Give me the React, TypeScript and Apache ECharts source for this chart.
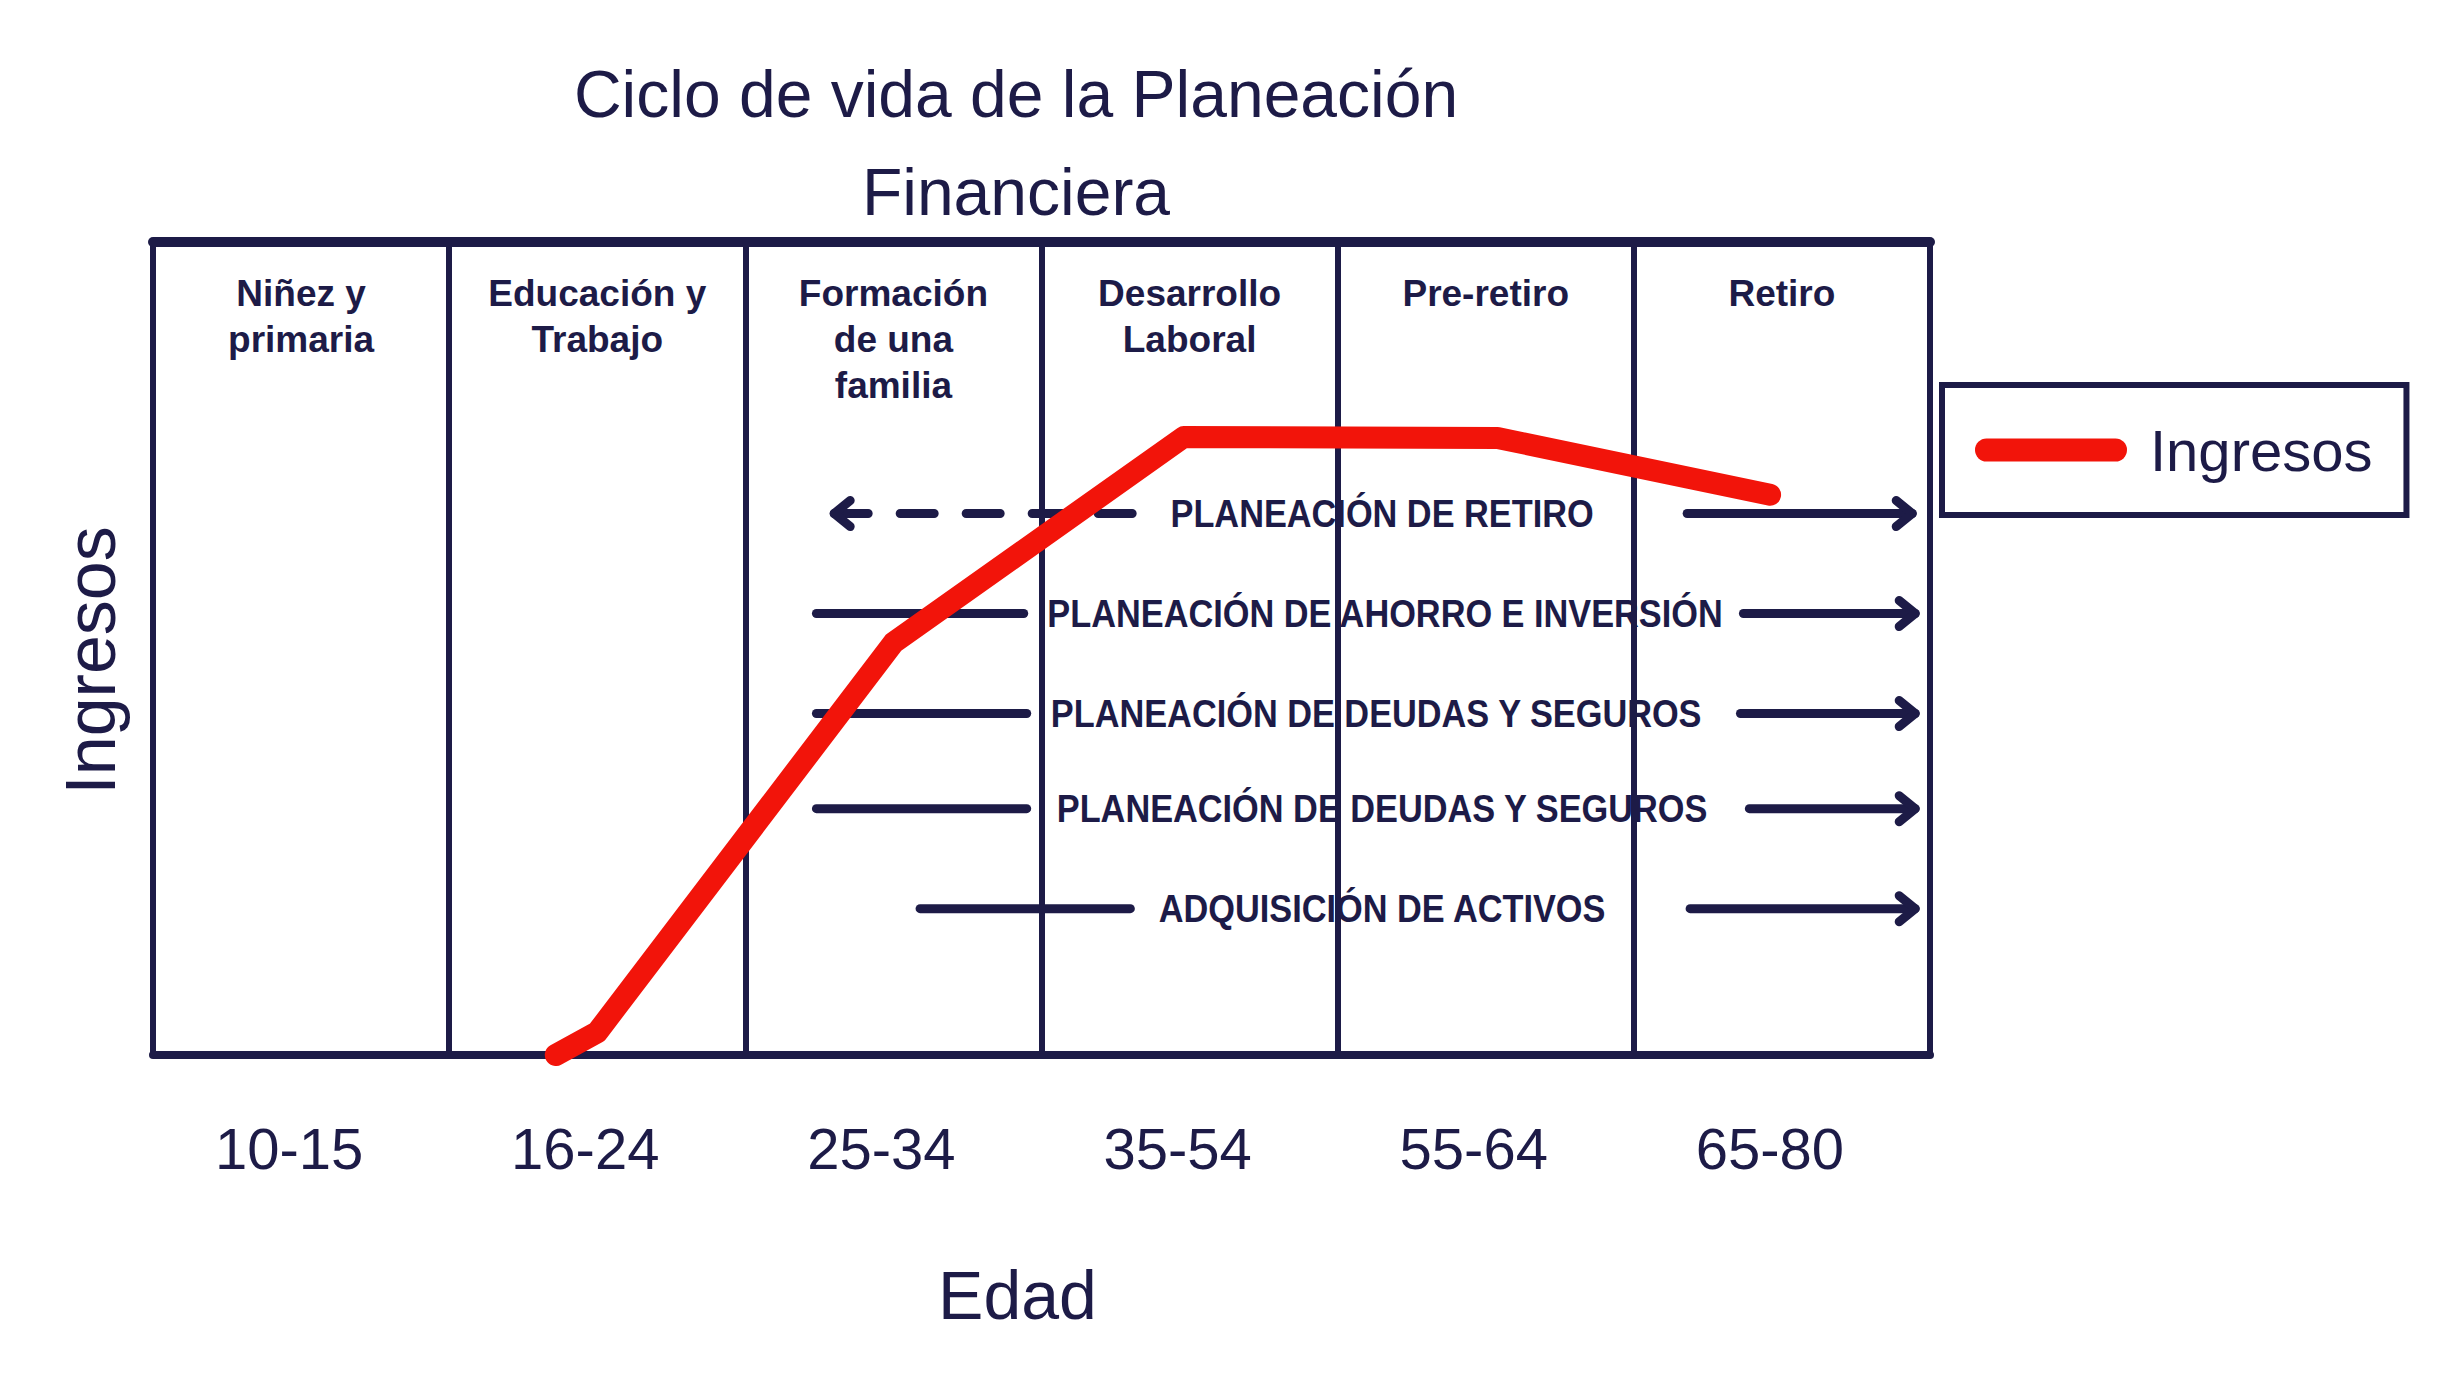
import React, { useEffect, useRef } from "react";
import * as echarts from "echarts";

const NAVY = "#1d1b47";
const RED = "#f2140a";
const FONT = "'Liberation Sans', Arial, sans-serif";

const titulo = "Ciclo de vida de la Planeación\nFinanciera";
const edades = ["10-15", "16-24", "25-34", "35-54", "55-64", "65-80"];
const etapas = [
  "Niñez y\nprimaria",
  "Educación y\nTrabajo",
  "Formación\nde una\nfamilia",
  "Desarrollo\nLaboral",
  "Pre-retiro",
  "Retiro",
];

// Ingresos curve: position along the age axis (column units) and level
const ingresosEdad = [1.36, 1.5, 2.5, 3.48, 4.54, 5.46];
const ingresos = [0, 2.8, 50.7, 76.0, 75.9, 68.9];

// Planning arrows
const planes = [
  "PLANEACIÓN DE RETIRO",
  "PLANEACIÓN DE AHORRO E INVERSIÓN",
  "PLANEACIÓN DE DEUDAS Y SEGUROS",
  "PLANEACIÓN DE DEUDAS Y SEGUROS",
  "ADQUISICIÓN DE ACTIVOS",
];
const planNivel = [66.6, 54.3, 42.0, 30.3, 18.0];
const planInicio = [2.3, 2.24, 2.24, 2.24, 2.59];
const planFinIzq = [3.32, 2.94, 2.95, 2.95, 3.3];
const planCentro = [4.15, 4.16, 4.13, 4.15, 4.15];
const planInicioDer = [5.18, 5.37, 5.36, 5.39, 5.19];
const planFin = [5.94, 5.95, 5.95, 5.95, 5.95];
const planHaciaAtras = [true, false, false, false, false];

const renderPlan = (params: any, api: any) => {
  const i = params.dataIndex;
  const nivel = api.value(5);
  const a = api.coord([api.value(0), nivel]);
  const b = api.coord([api.value(1), nivel]);
  const c = api.coord([api.value(2), nivel]);
  const d = api.coord([api.value(3), nivel]);
  const e = api.coord([api.value(4), nivel]);
  const stroke: any = { stroke: NAVY, lineWidth: 9, lineCap: "round", lineJoin: "round", fill: null };
  const head = 16;
  const half = 13;
  const children: any[] = [];
  if (planHaciaAtras[i]) {
    children.push({
      type: "line",
      shape: { x1: a[0], y1: a[1], x2: b[0], y2: b[1] },
      style: { ...stroke, lineDash: [34, 32] },
    });
    children.push({
      type: "polyline",
      shape: { points: [[a[0] + head, a[1] - half], [a[0], a[1]], [a[0] + head, a[1] + half]] },
      style: stroke,
    });
  } else {
    children.push({ type: "line", shape: { x1: a[0], y1: a[1], x2: b[0], y2: b[1] }, style: stroke });
  }
  children.push({ type: "line", shape: { x1: d[0], y1: d[1], x2: e[0], y2: e[1] }, style: stroke });
  children.push({
    type: "polyline",
    shape: { points: [[e[0] - head, e[1] - half], [e[0], e[1]], [e[0] - head, e[1] + half]] },
    style: stroke,
  });
  children.push({
    type: "text",
    x: c[0],
    y: c[1],
    scaleX: 0.88,
    style: {
      text: planes[i],
      fill: NAVY,
      fontSize: 39,
      fontWeight: "bold",
      fontFamily: FONT,
      align: "center",
      verticalAlign: "middle",
    },
  });
  return { type: "group", children };
};

export default function App() {
  const ref = useRef<HTMLDivElement>(null);
  useEffect(() => {
    document.body.style.margin = "0";
    const chart = echarts.init(ref.current!, null, { renderer: "svg" });
    chart.setOption({
      animation: false,
      backgroundColor: "#ffffff",
      textStyle: { fontFamily: FONT },
      title: {
        text: titulo,
        left: 1011,
        top: 40,
        textAlign: "center",
        textStyle: { fontFamily: FONT, fontSize: 66, fontWeight: "normal", color: NAVY, lineHeight: 98 },
      },
      legend: {
        data: ["Ingresos"],
        left: 1942,
        top: 385,
        borderColor: NAVY,
        borderWidth: 6,
        padding: [33, 34, 33, 33],
        itemWidth: 152,
        itemHeight: 23,
        icon: "path://M11.5,0 L140.5,0 A11.5,11.5 0 0 1 140.5,23 L11.5,23 A11.5,11.5 0 0 1 11.5,0 Z",
        selectedMode: false,
        textStyle: { fontFamily: FONT, fontSize: 58, lineHeight: 64, color: NAVY, padding: [0, 0, 0, 18] },
      },
      grid: { left: 153, right: 518, top: 242, bottom: 320, containLabel: false },
      xAxis: [
        {
          type: "category",
          data: edades,
          position: "bottom",
          boundaryGap: true,
          axisLine: { onZero: false, lineStyle: { color: NAVY, width: 8 } },
          axisTick: { show: false },
          axisLabel: {
            interval: 0,
            margin: 64,
            fontSize: 58,
            color: NAVY,
            fontFamily: FONT,
            padding: [0, 24, 0, 0],
          },
          splitLine: { show: true, interval: 0, lineStyle: { color: NAVY, width: 6 } },
          name: "Edad",
          nameLocation: "middle",
          nameGap: 206,
          nameTextStyle: { fontFamily: FONT, fontSize: 68, color: NAVY, padding: [0, 48, 0, 0] },
        },
        {
          type: "category",
          data: etapas,
          position: "top",
          axisLine: { onZero: false, lineStyle: { color: NAVY, width: 10 } },
          axisTick: { show: false },
          axisLabel: {
            inside: true,
            interval: 0,
            margin: 28,
            fontSize: 37,
            fontWeight: "bold",
            lineHeight: 46,
            color: NAVY,
            fontFamily: FONT,
          },
          splitLine: { show: false },
        },
        { type: "value", min: 0, max: 6, show: false },
      ],
      yAxis: [
        {
          type: "value",
          min: 0,
          max: 100,
          position: "left",
          axisLine: { show: true, onZero: false, lineStyle: { color: NAVY, width: 6 } },
          axisTick: { show: false },
          axisLabel: { show: false },
          splitLine: { show: false },
          name: "Ingresos",
          nameLocation: "middle",
          nameGap: 27,
          nameTextStyle: { fontFamily: FONT, fontSize: 70, color: NAVY, padding: [0, 24, 0, 0] },
        },
        {
          type: "value",
          min: 0,
          max: 100,
          position: "right",
          axisLine: { show: true, onZero: false, lineStyle: { color: NAVY, width: 6 } },
          axisTick: { show: false },
          axisLabel: { show: false },
          splitLine: { show: false },
        },
      ],
      series: [
        {
          type: "custom",
          name: "Planeación",
          xAxisIndex: 2,
          yAxisIndex: 0,
          z: 3,
          silent: true,
          renderItem: renderPlan,
          encode: { x: [0, 1, 2, 3, 4], y: 5 },
          data: planes.map((_, i) => [
            planInicio[i],
            planFinIzq[i],
            planCentro[i],
            planInicioDer[i],
            planFin[i],
            planNivel[i],
          ]),
        },
        {
          type: "line",
          name: "Ingresos",
          xAxisIndex: 2,
          yAxisIndex: 0,
          z: 5,
          showSymbol: false,
          symbol: "none",
          color: RED,
          lineStyle: { color: RED, width: 22, cap: "round", join: "round" },
          data: ingresosEdad.map((x, i) => [x, ingresos[i]]),
        },
      ],
    });
    return () => chart.dispose();
  }, []);
  return <div ref={ref} style={{ width: 2448, height: 1375 }} />;
}
